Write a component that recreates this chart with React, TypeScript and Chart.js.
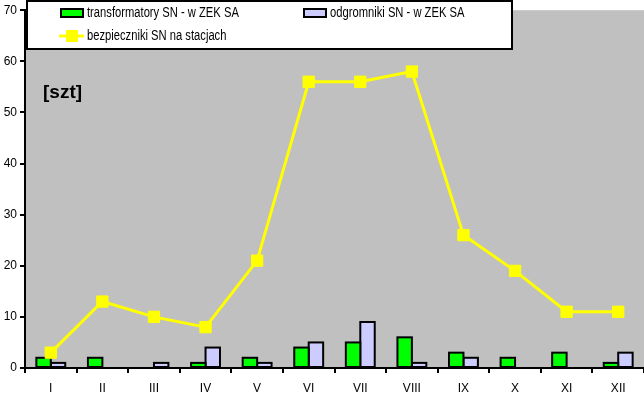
import React, { useEffect, useRef } from "react";
import Chart from "chart.js/auto";

const months = ["I", "II", "III", "IV", "V", "VI", "VII", "VIII", "IX", "X", "XI", "XII"];
const transformatory = [2, 2, 0, 1, 2, 4, 5, 6, 3, 2, 3, 1];
const odgromniki = [1, 0, 1, 4, 1, 5, 9, 1, 2, 0, 0, 3];
const bezpieczniki = [3, 13, 10, 8, 21, 56, 56, 58, 26, 19, 11, 11];
const seriesLabels = ["transformatory SN - w ZEK SA", "odgromniki SN - w ZEK SA", "bezpieczniki SN na stacjach"];
const unitLabel = "[szt]";

const FONT = "Liberation Sans, Arial, sans-serif";

const bgPlugin = {
  id: "plotBg",
  beforeDraw(chart: any) {
    const { ctx, chartArea } = chart;
    ctx.save();
    ctx.fillStyle = "#c0c0c0";
    ctx.fillRect(chartArea.left, chartArea.top, chartArea.right - chartArea.left, chartArea.bottom - chartArea.top);
    ctx.restore();
  },
};

const barOutlinePlugin = {
  id: "barOutline",
  afterDatasetDraw(chart: any, args: any) {
    const meta = args.meta;
    if (meta.type !== "bar") return;
    const { ctx } = chart;
    ctx.save();
    ctx.strokeStyle = "#000";
    ctx.lineWidth = 2;
    meta.data.forEach((el: any) => {
      const { x, y, base, width } = el.getProps(["x", "y", "base", "width"], true);
      if (Math.abs(base - y) < 0.5) return;
      ctx.strokeRect(x - width / 2, Math.min(y, base), width, Math.abs(base - y));
    });
    ctx.restore();
  },
};

const overlayPlugin = {
  id: "overlay",
  afterDraw(chart: any) {
    const { ctx } = chart;
    ctx.save();
    ctx.font = "bold 19px " + FONT;
    ctx.fillStyle = "#000";
    ctx.textBaseline = "middle";
    ctx.textAlign = "left";
    ctx.fillText(unitLabel, 43, 93);
    ctx.fillStyle = "#fff";
    ctx.fillRect(27, 1, 485, 48);
    ctx.strokeStyle = "#000";
    ctx.lineWidth = 2;
    ctx.strokeRect(27, 1, 485, 48);
    const ds = chart.data.datasets;
    ctx.font = "14px " + FONT;
    const SX = 0.8;
    const text = (s: string, x: number, y: number) => {
      ctx.save();
      ctx.translate(x, y);
      ctx.scale(SX, 1);
      ctx.fillStyle = "#000";
      ctx.fillText(s, 0, 0);
      ctx.restore();
    };
    const drawBarItem = (d: any, x: number, y: number) => {
      ctx.fillStyle = d.backgroundColor;
      ctx.fillRect(x, y - 4, 22, 8);
      ctx.strokeStyle = "#000";
      ctx.lineWidth = 2;
      ctx.strokeRect(x, y - 4, 22, 8);
      text(d.label, x + 26, y);
    };
    const lineDs = ds.find((d: any) => d.type === "line");
    const barDs = ds.filter((d: any) => d.type !== "line");
    drawBarItem(barDs[0], 61, 13);
    drawBarItem(barDs[1], 304, 13);
    ctx.strokeStyle = lineDs.borderColor;
    ctx.lineWidth = 3;
    ctx.beginPath();
    ctx.moveTo(59, 36);
    ctx.lineTo(84, 36);
    ctx.stroke();
    ctx.fillStyle = lineDs.pointBackgroundColor;
    ctx.fillRect(66, 30, 12, 12);
    text(lineDs.label, 87, 36);
    ctx.restore();
  },
};

export default function App() {
  const ref = useRef<HTMLCanvasElement>(null);
  useEffect(() => {
    const chart = new Chart(ref.current!, {
      type: "bar",
      data: {
        labels: months,
        datasets: [
          {
            type: "line",
            label: seriesLabels[2],
            data: bezpieczniki,
            borderColor: "#ffff00",
            backgroundColor: "#ffff00",
            pointBackgroundColor: "#ffff00",
            pointBorderColor: "#ffff00",
            borderWidth: 3,
            pointStyle: "rect",
            pointRadius: 8,
            pointBorderWidth: 1,
            tension: 0,
            order: 0,
          } as any,
          {
            type: "bar",
            label: seriesLabels[0],
            data: transformatory,
            backgroundColor: "#00ff00",
            borderWidth: 0,
            categoryPercentage: 0.56,
            barPercentage: 1,
            order: 1,
          },
          {
            type: "bar",
            label: seriesLabels[1],
            data: odgromniki,
            backgroundColor: "#ccccff",
            borderWidth: 0,
            categoryPercentage: 0.56,
            barPercentage: 1,
            order: 2,
          },
        ],
      },
      options: {
        animation: false,
        responsive: false,
        maintainAspectRatio: false,
        layout: { autoPadding: false, padding: { top: 8, left: 0, right: 0, bottom: 0 } },
        plugins: { legend: { display: false }, tooltip: { enabled: false } },
        scales: {
          x: {
            offset: true,
            grid: { offset: true, drawOnChartArea: false, drawTicks: true, tickLength: 5, color: "#000", lineWidth: 2 },
            border: { display: true, color: "#000", width: 2 },
            ticks: { color: "#000", font: { family: FONT, size: 12 }, padding: 8, maxRotation: 0 },
            afterFit(scale: any) {
              scale.height = 29;
            },
          },
          y: {
            min: 0,
            max: 70,
            grid: { drawOnChartArea: false, drawTicks: true, tickLength: 5, color: "#000", lineWidth: 2 },
            border: { display: true, color: "#000", width: 2 },
            ticks: { stepSize: 10, color: "#000", font: { family: FONT, size: 12 }, padding: 3 },
            afterFit(scale: any) {
              scale.width = 25;
            },
          },
        },
      },
      plugins: [bgPlugin, barOutlinePlugin, overlayPlugin],
    });
    return () => chart.destroy();
  }, []);
  return (
    <div style={{ position: "fixed", left: 0, top: 0, width: 644, height: 397, background: "#fff" }}>
      <canvas ref={ref} width={644} height={397} style={{ width: 644, height: 397 }} />
    </div>
  );
}
